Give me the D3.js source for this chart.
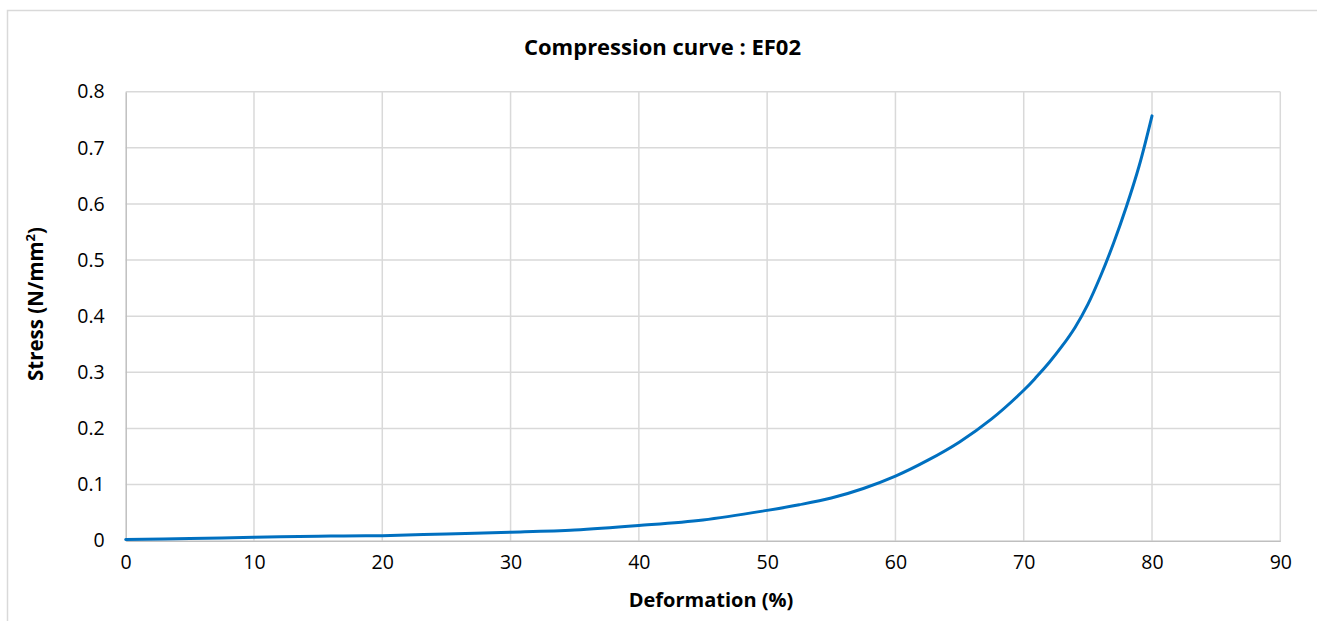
<!DOCTYPE html>
<html>
<head>
<meta charset="utf-8">
<script src="https://cdn.jsdelivr.net/npm/d3@7"></script>
<style>
  html, body { margin: 0; padding: 0; background: #fff; }
  svg { display: block; }
</style>
</head>
<body>
<div id="chart"></div>
<script>
// ---- Data ----
const deformation = [0, 5, 10, 15, 20, 25, 30, 35, 40, 45, 50, 52.5, 55, 57.5, 60, 62.5, 65, 67.5, 70, 71, 72, 73, 74, 75, 76, 77, 78, 79, 80];
const stress      = [0.002, 0.004, 0.006, 0.008, 0.009, 0.012, 0.015, 0.019, 0.027, 0.037, 0.054, 0.064, 0.076, 0.093, 0.115, 0.143, 0.176, 0.217, 0.268, 0.292, 0.318, 0.347, 0.380, 0.421, 0.472, 0.530, 0.595, 0.668, 0.757];
const xTicks = [0, 10, 20, 30, 40, 50, 60, 70, 80, 90];
const yTicks = [0, 0.1, 0.2, 0.3, 0.4, 0.5, 0.6, 0.7, 0.8];
const titleText = "Compression curve : EF02";
const xTitle = "Deformation (%)";

const W = 1317, H = 621;
const plot = { left: 125.7, right: 1280.3, top: 91.7, bottom: 540.7 };
const font = "'Open Sans', 'Liberation Sans', sans-serif";

const svg = d3.select("#chart").append("svg")
  .attr("width", W).attr("height", H);

// chart area border
svg.append("rect")
  .attr("x", 7.5).attr("y", 10.5)
  .attr("width", 1400).attr("height", 700)
  .attr("fill", "#fff").attr("stroke", "#d9d9d9").attr("stroke-width", 1.5);

const x = d3.scaleLinear().domain([0, 90]).range([plot.left, plot.right]);
const y = d3.scaleLinear().domain([0, 0.8]).range([plot.bottom, plot.top]);

// gridlines
const g = svg.append("g");
g.selectAll("line.vg").data(xTicks.filter(d => d > 0)).enter().append("line")
  .attr("x1", d => x(d)).attr("x2", d => x(d))
  .attr("y1", plot.top).attr("y2", plot.bottom)
  .attr("stroke", "#d9d9d9").attr("stroke-width", 1.5);
g.selectAll("line.hg").data(yTicks.filter(d => d > 0)).enter().append("line")
  .attr("x1", plot.left).attr("x2", plot.right)
  .attr("y1", d => y(d)).attr("y2", d => y(d))
  .attr("stroke", "#d9d9d9").attr("stroke-width", 1.5);

// axes
const xAxis = d3.axisBottom(x).tickValues(xTicks).tickSize(0).tickPadding(14).tickFormat(d3.format("d"));
const yAxis = d3.axisLeft(y).tickValues(yTicks).tickSize(0).tickPadding(21).tickFormat(d => d === 0 ? "0" : d3.format(".1f")(d));

const gx = svg.append("g").attr("transform", `translate(0,${plot.bottom})`).call(xAxis);
gx.select(".domain").attr("stroke", "#bfbfbf").attr("stroke-width", 1.5);
gx.selectAll("text").attr("font-family", font).attr("font-size", 19.5).attr("fill", "#000");

const gy = svg.append("g").attr("transform", `translate(${plot.left},0)`).call(yAxis);
gy.select(".domain").attr("stroke", "#bfbfbf").attr("stroke-width", 1.5);
gy.selectAll("text").attr("font-family", font).attr("font-size", 19.5).attr("fill", "#000");

// line
const data = deformation.map((d, i) => ({ x: d, y: stress[i] }));
const line = d3.line().x(d => x(d.x)).y(d => y(d.y)).curve(d3.curveCatmullRom.alpha(0.5));
svg.append("path").datum(data)
  .attr("d", line)
  .attr("fill", "none")
  .attr("stroke", "#0070c0")
  .attr("stroke-width", 3)
  .attr("stroke-linecap", "round");

// titles
svg.append("text")
  .attr("x", 662.5).attr("y", 55)
  .attr("text-anchor", "middle")
  .attr("font-family", font).attr("font-weight", "bold").attr("font-size", 22)
  .text(titleText);

svg.append("text")
  .attr("x", 711).attr("y", 607)
  .attr("text-anchor", "middle")
  .attr("font-family", font).attr("font-weight", "bold").attr("font-size", 20)
  .text(xTitle);

const yt = svg.append("text")
  .attr("transform", "translate(43,304) rotate(-90)")
  .attr("text-anchor", "middle")
  .attr("font-family", font).attr("font-weight", "bold").attr("font-size", 20.5);
yt.append("tspan").text("Stress (N/mm");
yt.append("tspan").attr("font-size", 13).attr("dy", -8).text("2");
yt.append("tspan").attr("dy", 8).text(")");
</script>
</body>
</html>
